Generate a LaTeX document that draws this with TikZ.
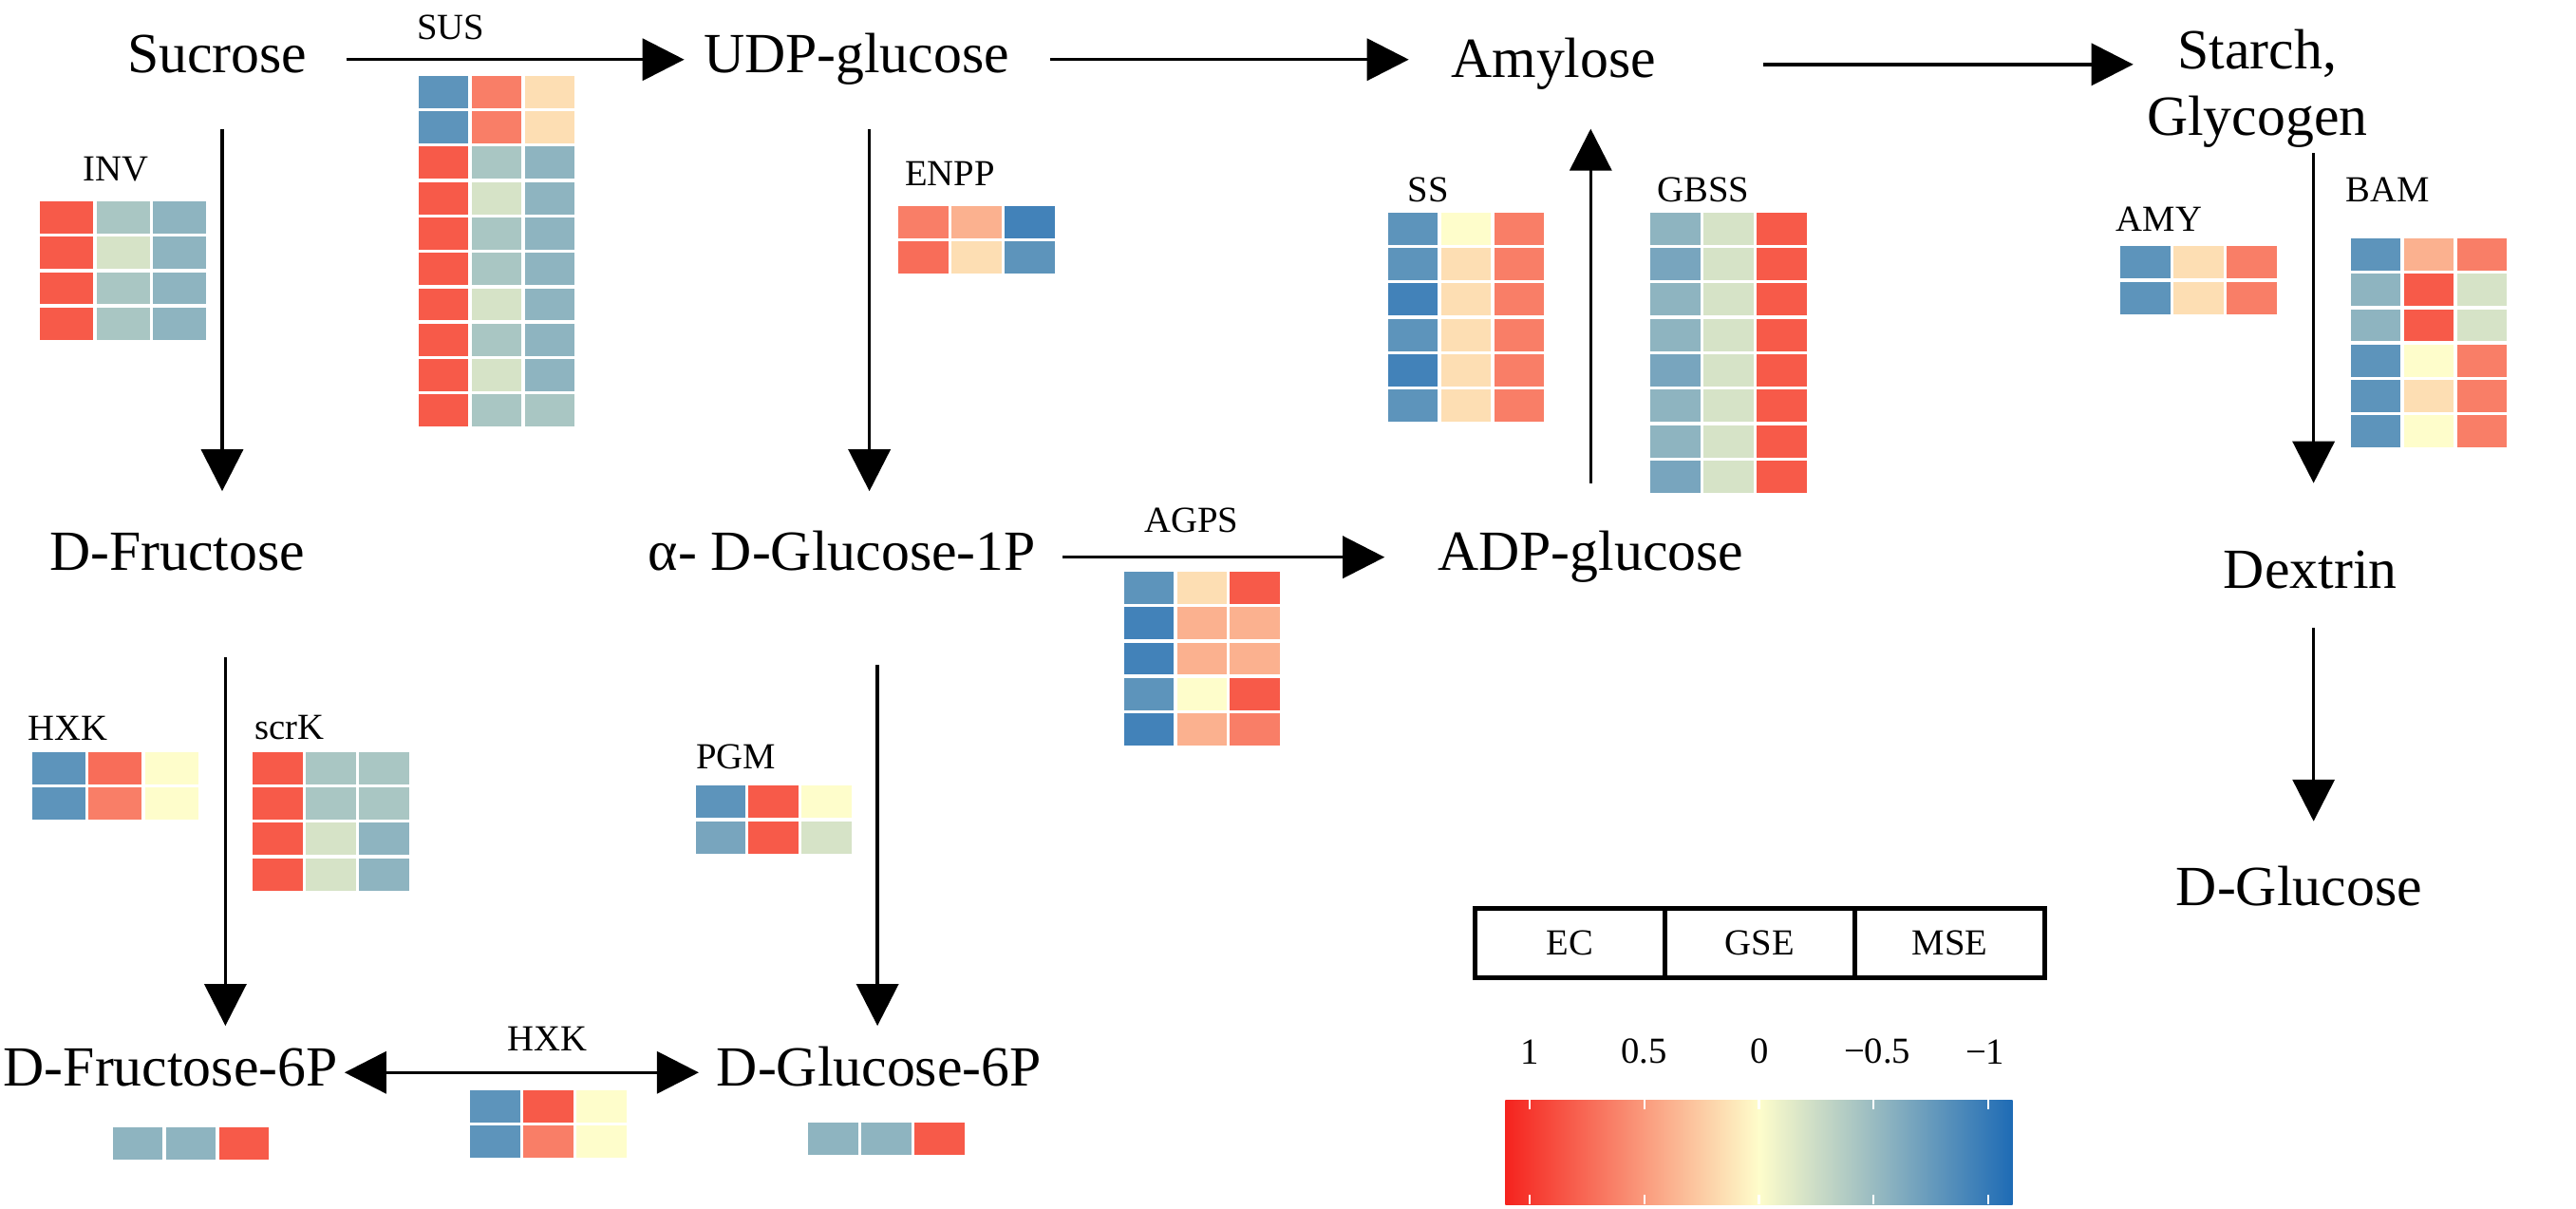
\documentclass[tikz,border=0pt]{standalone}
\usepackage{fontspec}
\setmainfont{Liberation Serif}
\usetikzlibrary{arrows.meta,calc}

\definecolor{cbr}{HTML}{F5231E}
\definecolor{cby}{HTML}{FEFDCB}
\definecolor{cbb}{HTML}{1E6BB5}
\colorlet{rd}{cbr!75!cby}
\colorlet{rs}{cbr!66!cby}
\colorlet{sa}{cbr!58!cby}
\colorlet{pe}{cbr!35!cby}
\colorlet{cr}{cbr!14!cby}
\colorlet{ye}{cby}
\colorlet{gn}{cbb!18!cby}
\colorlet{lg}{cbb!38!cby}
\colorlet{gb}{cbb!50!cby}
\colorlet{lb}{cbb!60!cby}
\colorlet{bl}{cbb!72!cby}
\colorlet{db}{cbb!84!cby}

\begin{document}
\begin{tikzpicture}[x=0.01695625cm, y=-0.01695625cm,
    met/.style = {font=\fontsize{17}{18}\selectfont, text height=12pt, text depth=4pt},
    enz/.style = {font=\fontsize{11}{13}\selectfont},
    arr/.style = {line width=1pt, -{Triangle[length=0.44cm, width=0.44cm]}},
    biarr/.style = {line width=1pt, {Triangle[length=0.44cm, width=0.44cm]}-{Triangle[length=0.44cm, width=0.44cm]}},
    legbox/.style = {draw, line width=1.5pt, minimum width=2cm, minimum height=0.73cm,
        inner sep=0pt, font=\fontsize{11}{13}\selectfont}]
    \useasboundingbox (0,0) rectangle (1600,750.76);

    % metabolites
    \node[met] (suc) at (135, 37) {Sucrose};
    \node[met] (udp) at (532, 37) {UDP-glucose};
    \node[met] (amy) at (965, 40) {Amylose};
    \node[font=\fontsize{17}{20}\selectfont, align=center] (sta) at (1402, 55) {Starch,\\Glycogen};
    \node[met] (fru) at (110, 346) {D-Fructose};
    \node[met] (g1p) at (523, 346) {α- D-Glucose-1P};
    \node[met] (adp) at (988, 346) {ADP-glucose};
    \node[met] (dex) at (1435, 357) {Dextrin};
    \node[met] (glc) at (1428, 554) {D-Glucose};
    \node[met] (f6p) at (106, 666) {D-Fructose-6P};
    \node[met] (g6p) at (546, 666) {D-Glucose-6P};

    % reactions
    \draw[arr] ($(suc)+(80,0)$) -- ($(udp)+(-107,0)$);
    \draw[arr] ($(udp)+(120,0)$) -- ($(amy)+(-90,-3)$);
    \draw[arr] ($(amy)+(130,0)$) -- ($(sta)+(-77,-15)$);
    \draw[arr] ($(suc)+(3,43)$) -- ($(fru)+(28,-41)$);
    \draw[arr] ($(udp)+(8,43)$) -- ($(g1p)+(17,-41)$);
    \draw[arr] ($(g1p)+(137,0)$) -- ($(adp)+(-128,0)$);
    \draw[arr] ($(adp)+(0,-46)$) -- ($(amy)+(23,40)$);
    \draw[arr] ($(sta)+(35,40)$) -- ($(dex)+(2,-57)$);
    \draw[arr] ($(dex)+(2,33)$) -- ($(glc)+(9,-44)$);
    \draw[arr] ($(fru)+(30,62)$) -- ($(f6p)+(34,-29)$);
    \draw[arr] ($(g1p)+(22,67)$) -- ($(g6p)+(-1,-29)$);
    \draw[biarr] ($(f6p)+(108,0)$) -- ($(g6p)+(-112,0)$);

    % enzymes
    \node[enz] (sus) at (280, 17) {SUS};
    \node[enz] (inv) at (72, 105) {INV};
    \node[enz] (enpp) at (590, 108) {ENPP};
    \node[enz] (ss) at (887, 118) {SS};
    \node[enz] (gbss) at (1058, 118) {GBSS};
    \node[enz] (amyl) at (1341, 136) {AMY};
    \node[enz] (bam) at (1483, 118) {BAM};
    \node[enz] (hxka) at (42, 452) {HXK};
    \node[enz] (scrk) at (180, 452) {scrK};
    \node[enz] (pgm) at (457, 470) {PGM};
    \node[enz] (agps) at (740, 323) {AGPS};
    \node[enz] (hxkb) at (340, 645) {HXK};

    % heatmaps
    \foreach \ca/\cb/\cc [count=\r from 0] in {bl/sa/cr, bl/sa/cr, rd/lg/gb, rd/gn/gb, rd/lg/gb,
        rd/lg/gb, rd/gn/gb, rd/lg/gb, rd/gn/gb, rd/lg/lg}
      \foreach \col [count=\k from 0] in {\ca,\cb,\cc}
        \fill[\col] (260+33*\k, 47+22*\r) rectangle +(31,20);
    \foreach \ca/\cb/\cc [count=\r from 0] in {rd/lg/gb, rd/gn/gb, rd/lg/gb, rd/lg/gb}
      \foreach \col [count=\k from 0] in {\ca,\cb,\cc}
        \fill[\col] (25+35*\k, 125+22*\r) rectangle +(33,20);
    \foreach \ca/\cb/\cc [count=\r from 0] in {sa/pe/db, rs/cr/bl}
      \foreach \col [count=\k from 0] in {\ca,\cb,\cc}
        \fill[\col] (558+33*\k, 128+22*\r) rectangle +(31,20);
    \foreach \ca/\cb/\cc [count=\r from 0] in {bl/ye/sa, bl/cr/sa, db/cr/sa, bl/cr/sa, db/cr/sa,
        bl/cr/sa}
      \foreach \col [count=\k from 0] in {\ca,\cb,\cc}
        \fill[\col] (862+33*\k, 132+22*\r) rectangle +(31,20);
    \foreach \ca/\cb/\cc [count=\r from 0] in {gb/gn/rd, lb/gn/rd, gb/gn/rd, gb/gn/rd, lb/gn/rd,
        gb/gn/rd, gb/gn/rd, lb/gn/rd}
      \foreach \col [count=\k from 0] in {\ca,\cb,\cc}
        \fill[\col] (1025+33*\k, 132+22*\r) rectangle +(31,20);
    \foreach \ca/\cb/\cc [count=\r from 0] in {bl/cr/sa, bl/cr/sa}
      \foreach \col [count=\k from 0] in {\ca,\cb,\cc}
        \fill[\col] (1317+33*\k, 153+22*\r) rectangle +(31,20);
    \foreach \ca/\cb/\cc [count=\r from 0] in {bl/pe/sa, gb/rd/gn, gb/rd/gn, bl/ye/sa, bl/cr/sa,
        bl/ye/sa}
      \foreach \col [count=\k from 0] in {\ca,\cb,\cc}
        \fill[\col] (1460+33*\k, 148+22*\r) rectangle +(31,20);
    \foreach \ca/\cb/\cc [count=\r from 0] in {bl/rs/ye, bl/sa/ye}
      \foreach \col [count=\k from 0] in {\ca,\cb,\cc}
        \fill[\col] (20+35*\k, 467+22*\r) rectangle +(33,20);
    \foreach \ca/\cb/\cc [count=\r from 0] in {rd/lg/lg, rd/lg/lg, rd/gn/gb, rd/gn/gb}
      \foreach \col [count=\k from 0] in {\ca,\cb,\cc}
        \fill[\col] (157+33*\k, 467+22*\r) rectangle +(31,20);
    \foreach \ca/\cb/\cc [count=\r from 0] in {bl/rd/ye, lb/rd/gn}
      \foreach \col [count=\k from 0] in {\ca,\cb,\cc}
        \fill[\col] (432+33*\k, 488+22*\r) rectangle +(31,20);
    \foreach \ca/\cb/\cc [count=\r from 0] in {bl/cr/rd, db/pe/pe, db/pe/pe, bl/ye/rd, db/pe/sa}
      \foreach \col [count=\k from 0] in {\ca,\cb,\cc}
        \fill[\col] (698+33*\k, 355+22*\r) rectangle +(31,20);
    \foreach \ca/\cb/\cc [count=\r from 0] in {bl/rd/ye, bl/sa/ye}
      \foreach \col [count=\k from 0] in {\ca,\cb,\cc}
        \fill[\col] (292+33*\k, 677+22*\r) rectangle +(31,20);
    \foreach \col [count=\k from 0] in {gb,gb,rd}
      \fill[\col] (70+33*\k, 700) rectangle +(31,20);
    \foreach \col [count=\k from 0] in {gb,gb,rd}
      \fill[\col] (502+33*\k, 697) rectangle +(31,20);

    % legend
    \node[legbox] (ec) at (975, 585.5) {EC};
    \node[legbox] (gse) at (1093, 585.5) {GSE};
    \node[legbox] (mse) at (1211, 585.5) {MSE};

    \shade[left color=cbr, right color=cbb, middle color=cby] (935,683) rectangle (1250,748);
    \foreach \t in {950,1021.25,1092.5,1163.75,1235} {
      \draw[white, line width=0.6pt] (\t,683) -- (\t,689);
      \draw[white, line width=0.6pt] (\t,742) -- (\t,748);
    }
    \node[enz] (t1) at (950, 653) {1};
    \node[enz] (t2) at (1021, 653) {0.5};
    \node[enz] (t3) at (1093, 653) {0};
    \node[enz] (t4) at (1166, 653) {−0.5};
    \node[enz] (t5) at (1233, 653) {−1};
\end{tikzpicture}
\end{document}
